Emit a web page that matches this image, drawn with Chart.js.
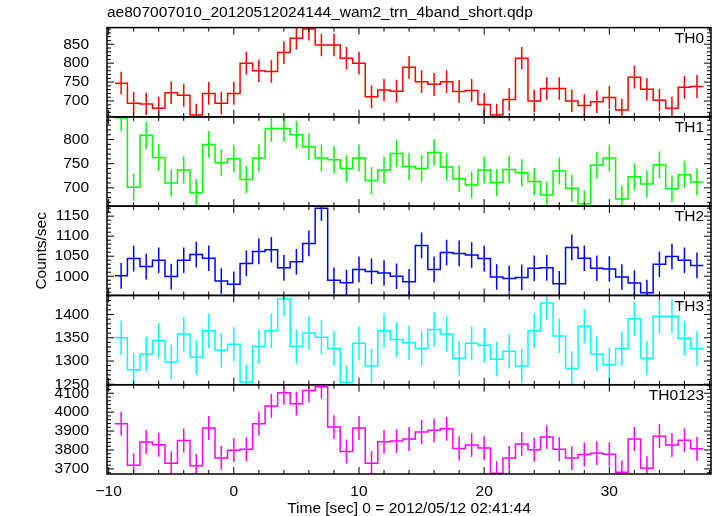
<!DOCTYPE html>
<html>
<head>
<meta charset="utf-8">
<script src="https://cdn.jsdelivr.net/npm/chart.js@4.4.1/dist/chart.umd.min.js"></script>
<style>
  html, body { margin: 0; padding: 0; background: #fff; }
</style>
</head>
<body>
<canvas id="lc" width="717" height="516"></canvas>
<script>
// bin centres (sec), 1 s bins
const times = [-9, -8, -7, -6, -5, -4, -3, -2, -1, 0, 1, 2, 3, 4, 5, 6, 7, 8, 9, 10, 11, 12, 13, 14, 15, 16,
  17, 18, 19, 20, 21, 22, 23, 24, 25, 26, 27, 28, 29, 30, 31, 32, 33, 34, 35, 36, 37]
const binWidth = 1

const th0 = [747, 694, 692, 681, 722, 715, 663, 720, 694, 720, 800, 780, 778, 828, 866, 890, 848, 848, 813, 800,
  711, 729, 726, 789, 751, 744, 751, 725, 728, 691, 663, 704, 813, 700, 733, 733, 700, 688, 698, 709, 676, 763,
  731, 702, 681, 736, 738]
const th1 = [845, 701, 809, 763, 710, 737, 690, 790, 752, 760, 717, 762, 823, 823, 810, 785, 762, 758, 740, 762,
  715, 737, 771, 744, 740, 773, 743, 719, 706, 737, 711, 738, 731, 713, 685, 735, 699, 667, 747, 762, 677, 723,
  708, 748, 698, 727, 712]
const th2 = [1001, 1044, 1024, 1040, 999, 1040, 1054, 1045, 988, 980, 1032, 1062, 1066, 1021, 1036, 1082, 1170,
  990, 984, 1017, 1012, 1008, 1000, 986, 1077, 1017, 1059, 1057, 1053, 1044, 998, 994, 997, 1020, 1021, 981,
  1072, 1045, 1020, 1018, 998, 983, 959, 1030, 1049, 1040, 1027]
const th3 = [1350, 1281, 1315, 1344, 1298, 1358, 1308, 1365, 1323, 1336, 1255, 1331, 1365, 1434, 1331, 1360,
  1351, 1327, 1254, 1338, 1289, 1365, 1346, 1339, 1327, 1368, 1358, 1306, 1338, 1334, 1304, 1321, 1289, 1365,
  1425, 1354, 1284, 1375, 1315, 1292, 1327, 1391, 1306, 1396, 1396, 1349, 1327]
const th0123 = [3939, 3719, 3842, 3827, 3730, 3850, 3716, 3916, 3758, 3799, 3804, 3939, 4033, 4102, 4045, 4114,
  4134, 3921, 3792, 3916, 3730, 3843, 3847, 3858, 3895, 3904, 3912, 3808, 3826, 3810, 3677, 3758, 3831, 3801,
  3868, 3804, 3757, 3776, 3783, 3778, 3682, 3858, 3704, 3873, 3826, 3852, 3806]

// typical 1-sigma error (counts/sec) read per band
const errTH0 = 30
const errTH1 = 28
const errTH2 = 32
const errTH3 = 37
const errTH0123 = 63

const titleText = "ae807007010_20120512024144_wam2_trn_4band_short.qdp"
const xTitle = "Time [sec] 0 = 2012/05/12 02:41:44"
const yTitle = "Counts/sec"

Chart.defaults.font.family = '"Liberation Sans", Arial, Helvetica, sans-serif'
Chart.defaults.font.size = 15.5
Chart.defaults.color = "#000"

// top to bottom
const panels = [
  { id: "yTH0", label: "TH0", values: th0, err: errTH0, color: "#ff0000", min: 658, max: 894, step: 50, minor: 10 },
  { id: "yTH1", label: "TH1", values: th1, err: errTH1, color: "#00ff00", min: 662, max: 847, step: 50, minor: 10 },
  { id: "yTH2", label: "TH2", values: th2, err: errTH2, color: "#0000ff", min: 952, max: 1175, step: 50, minor: 10 },
  { id: "yTH3", label: "TH3", values: th3, err: errTH3, color: "#00ffff", min: 1249, max: 1441, step: 50, minor: 10 },
  { id: "yTH0123", label: "TH0123", values: th0123, err: errTH0123, color: "#ff00ff", min: 3673, max: 4145, step: 100, minor: 20 }
]

const datasets = panels.map(p => ({
  label: p.label,
  data: times.flatMap((t, i) => [
    { x: t - binWidth / 2, y: p.values[i] },
    { x: t + binWidth / 2, y: p.values[i] }
  ]),
  yAxisID: p.id,
  borderColor: p.color,
  borderWidth: 1.5,
  pointRadius: 0,
  fill: false,
  tension: 0
}))

const scales = {
  x: {
    type: "linear",
    min: -10.13,
    max: 38.12,
    afterFit: (s) => { s.height = 42 },
    grid: { display: false },
    border: { display: false },
    ticks: {
      stepSize: 10,
      includeBounds: false,
      autoSkip: false,
      maxRotation: 0,
      padding: 0,
      callback: (v) => String(v).replace("-", "\u2212")
    },
    title: { display: true, text: xTitle, font: { size: 15.5, lineHeight: 1 }, padding: { top: 0, bottom: 0 } }
  }
}

panels.forEach((p, k) => {
  scales[p.id] = {
    type: "linear",
    position: "left",
    stack: "panels",
    stackWeight: 1,
    weight: panels.length - k,
    min: p.min,
    max: p.max,
    afterFit: (s) => { s.width = 107 },
    grid: { display: false },
    border: { display: false },
    ticks: { stepSize: p.step, includeBounds: false, autoSkip: false, padding: 10, callback: (v) => String(v) },
    title: p.id === "yTH2"
      ? { display: true, text: yTitle, font: { size: 15.5, lineHeight: 1 }, padding: { top: 33.5, bottom: 0 } }
      : { display: false }
  }
})

// error bars, panel frames, inward ticks and band labels
const panelDecor = {
  id: "panelDecor",
  afterDatasetsDraw(chart) {
    const { ctx } = chart
    const xs = chart.scales.x
    panels.forEach(p => {
      const ys = chart.scales[p.id]

      ctx.save()
      ctx.beginPath()
      ctx.rect(xs.left, ys.top, xs.right - xs.left, ys.bottom - ys.top)
      ctx.clip()
      ctx.strokeStyle = p.color
      ctx.lineWidth = 1.5
      ctx.beginPath()
      times.forEach((t, i) => {
        const px = xs.getPixelForValue(t)
        ctx.moveTo(px, ys.getPixelForValue(p.values[i] - p.err))
        ctx.lineTo(px, ys.getPixelForValue(p.values[i] + p.err))
      })
      ctx.stroke()
      ctx.restore()

      ctx.save()
      ctx.strokeStyle = "#000"
      ctx.lineWidth = 1.5
      ctx.strokeRect(xs.left, ys.top, xs.right - xs.left, ys.bottom - ys.top)

      ctx.lineWidth = 1
      ctx.beginPath()
      for (let v = -10; v <= xs.max; v += 2) {
        const px = xs.getPixelForValue(v)
        const len = v % 10 === 0 ? 7 : 4
        ctx.moveTo(px, ys.top)
        ctx.lineTo(px, ys.top + len)
        ctx.moveTo(px, ys.bottom)
        ctx.lineTo(px, ys.bottom - len)
      }
      for (let v = Math.ceil(ys.min / p.minor) * p.minor; v <= ys.max; v += p.minor) {
        const py = ys.getPixelForValue(v)
        const len = v % p.step === 0 ? 7 : 4
        ctx.moveTo(xs.left, py)
        ctx.lineTo(xs.left + len, py)
        ctx.moveTo(xs.right, py)
        ctx.lineTo(xs.right - len, py)
      }
      ctx.stroke()

      ctx.fillStyle = "#000"
      ctx.font = '15.5px "Liberation Sans", Arial, sans-serif'
      ctx.textAlign = "right"
      ctx.textBaseline = "middle"
      ctx.fillText(p.label, xs.right - 7, ys.top + 11)
      ctx.restore()
    })
  }
}

new Chart(document.getElementById("lc"), {
  type: "line",
  data: { datasets },
  options: {
    animation: false,
    responsive: false,
    layout: { padding: { right: 6, top: 0, left: 0, bottom: 0 } },
    plugins: {
      legend: { display: false },
      tooltip: { enabled: false },
      title: {
        display: true,
        text: titleText,
        align: "start",
        fullSize: false,
        font: { size: 15.5, weight: "normal" },
        padding: { top: 3, bottom: 6 }
      }
    },
    scales
  },
  plugins: [panelDecor]
})
</script>
</body>
</html>
